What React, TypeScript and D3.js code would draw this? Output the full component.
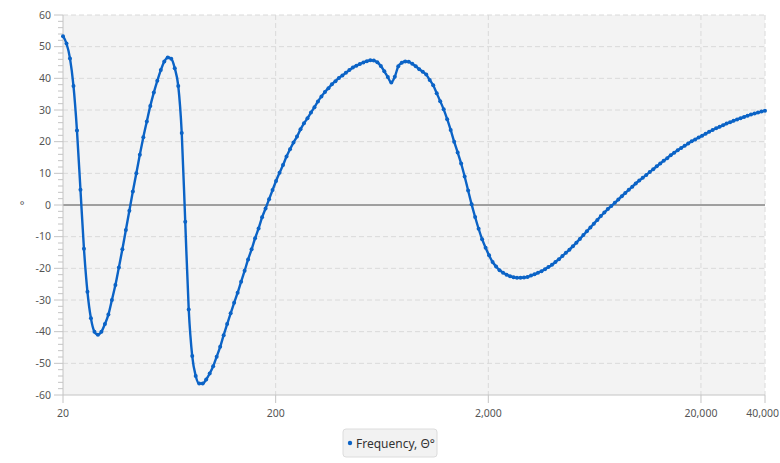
import React from 'react';
import * as d3 from 'd3';

// Sampling grid: log-spaced measurement frequencies (Hz)
const N_POINTS = 202;
const F_MIN = 20;
const F_MAX = 40000;
const FREQUENCIES: number[] = d3.range(N_POINTS).map((i) => F_MIN * Math.pow(F_MAX / F_MIN, i / (N_POINTS - 1)));

// Phase (degrees)
const PHASE: number[] = [
  53.3, 51.0, 46.3, 37.6, 23.5, 4.8, -13.8, -27.4, -35.8, -40.0,
  -41.0, -40.0, -37.6, -34.6, -30.0, -25.3, -19.7, -14.0, -7.9, -1.8,
  4.3, 10.0, 15.9, 21.4, 26.4, 31.3, 35.5, 39.2, 42.6, 45.3,
  46.6, 46.2, 43.2, 37.6, 22.7, -5.3, -33.0, -47.7, -54.0, -56.4,
  -56.4, -55.1, -53.2, -50.9, -47.9, -44.8, -41.1, -37.6, -34.2, -30.9,
  -27.7, -24.2, -20.8, -17.2, -14.0, -10.5, -7.4, -3.9, -1.1, 1.8,
  4.7, 7.6, 10.2, 12.6, 15.3, 17.6, 19.7, 21.6, 23.9, 25.8,
  27.4, 29.2, 30.9, 32.7, 34.3, 35.7, 36.9, 38.1, 39.1, 40.1,
  40.9, 41.8, 42.6, 43.4, 44.0, 44.5, 45.0, 45.4, 45.7, 45.6,
  45.1, 43.9, 42.2, 40.4, 38.7, 40.5, 43.8, 44.9, 45.3, 45.2,
  44.6, 43.8, 42.9, 42.1, 41.2, 39.5, 37.8, 35.3, 32.8, 30.2,
  27.1, 23.7, 20.0, 16.6, 13.1, 9.0, 4.6, 0.2, -3.8, -7.5,
  -10.8, -13.5, -15.9, -18.0, -19.4, -20.6, -21.4, -22.0, -22.5, -22.8,
  -23.0, -23.0, -22.9, -22.7, -22.3, -21.9, -21.4, -20.9, -20.3, -19.6,
  -18.9, -18.0, -17.1, -16.1, -15.1, -14.1, -13.0, -11.9, -10.7, -9.5,
  -8.3, -7.1, -5.9, -4.7, -3.5, -2.4, -1.3, -0.3, 0.7, 1.7,
  2.8, 3.8, 4.8, 5.8, 6.8, 7.7, 8.6, 9.5, 10.4, 11.3,
  12.2, 13.1, 14.0, 14.8, 15.7, 16.5, 17.3, 18.0, 18.7, 19.4,
  20.1, 20.7, 21.3, 21.9, 22.5, 23.1, 23.7, 24.2, 24.7, 25.2,
  25.7, 26.1, 26.6, 27.0, 27.4, 27.8, 28.2, 28.6, 28.9, 29.2,
  29.5, 29.8,
];

const X_TICKS = [20, 200, 2000, 20000, 40000];
const X_GRID = [200, 2000, 20000, 40000];
const Y_TICKS = d3.range(-60, 61, 10);
const Y_MINOR = d3.range(-60, 61, 2);
const SERIES_NAME = 'Frequency, Θ°';
const Y_LABEL = '°';

const W = 780;
const H = 463;
const LEFT = 63;
const RIGHT = 765;
const TOP = 15;
const BOTTOM = 395;
const COLOR = '#0b63c6';
const FONT = '"Segoe UI", "Noto Sans", "Open Sans", sans-serif';

export default function App() {
  const x = d3.scaleLog().domain([F_MIN, F_MAX]).range([LEFT, RIGHT]);
  const y = d3.scaleLinear().domain([-60, 60]).range([BOTTOM, TOP]);
  const fmt = d3.format(',');
  const data = FREQUENCIES.map((f, i) => ({ f, v: PHASE[i] }));
  const line = d3
    .line<{ f: number; v: number }>()
    .x((d) => x(d.f))
    .y((d) => y(d.v))
    .curve(d3.curveMonotoneX);

  return (
    <svg
      width={W}
      height={H}
      style={{ position: 'absolute', left: 0, top: 0, background: '#fff' }}
      fontFamily={FONT}
    >
      <rect x={LEFT} y={TOP} width={RIGHT - LEFT} height={BOTTOM - TOP} fill="#f3f3f3" />
      {Y_TICKS.filter((t) => t !== 0 && t !== -60).map((t) => (
        <line key={'gy' + t} x1={LEFT} x2={RIGHT} y1={y(t)} y2={y(t)} stroke="#dadada" strokeDasharray="5,3" />
      ))}
      {X_GRID.map((t) => (
        <line key={'gx' + t} x1={x(t)} x2={x(t)} y1={TOP} y2={BOTTOM} stroke="#dadada" strokeDasharray="5,3" />
      ))}
      <line x1={LEFT} x2={RIGHT} y1={y(0)} y2={y(0)} stroke="#4a4a4a" strokeWidth={1} />
      {/* left axis */}
      <line x1={LEFT} x2={LEFT} y1={TOP} y2={BOTTOM} stroke="#c4c4c4" />
      {Y_MINOR.map((t) => (
        <line
          key={'ym' + t}
          x1={t % 10 === 0 ? LEFT - 9 : LEFT - 5}
          x2={LEFT}
          y1={y(t)}
          y2={y(t)}
          stroke="#c4c4c4"
        />
      ))}
      {Y_TICKS.map((t) => (
        <text key={'yl' + t} x={LEFT - 12} y={y(t)} dy="0.35em" textAnchor="end" fontSize={10.5} fill="#555">
          {t}
        </text>
      ))}
      <text x={22} y={y(0)} dy="0.35em" textAnchor="middle" fontSize={11} fill="#555">
        {Y_LABEL}
      </text>
      {/* bottom axis */}
      <line x1={LEFT} x2={RIGHT} y1={BOTTOM} y2={BOTTOM} stroke="#c4c4c4" />
      {X_TICKS.map((t, i) => {
        const last = i === X_TICKS.length - 1;
        return (
          <g key={'xt' + t}>
            <line x1={x(t)} x2={x(t)} y1={BOTTOM} y2={BOTTOM + 8} stroke="#c4c4c4" />
            <text
              x={last ? W - 1 : x(t)}
              y={BOTTOM + 22}
              textAnchor={last ? 'end' : 'middle'}
              fontSize={10.5}
              fill="#555"
            >
              {fmt(t)}
            </text>
          </g>
        );
      })}
      {/* series */}
      <path d={line(data) || ''} fill="none" stroke={COLOR} strokeWidth={2.4} />
      {data.map((d, i) => (
        <circle key={'p' + i} cx={x(d.f)} cy={y(d.v)} r={2} fill={COLOR} />
      ))}
      {/* legend */}
      <rect x={343} y={429} width={94} height={28} rx={3} fill="#f2f2f2" stroke="#dcdcdc" />
      <circle cx={350} cy={443} r={2.2} fill={COLOR} />
      <text x={356} y={447.5} fontSize={12} fill="#333">
        {SERIES_NAME}
      </text>
    </svg>
  );
}
